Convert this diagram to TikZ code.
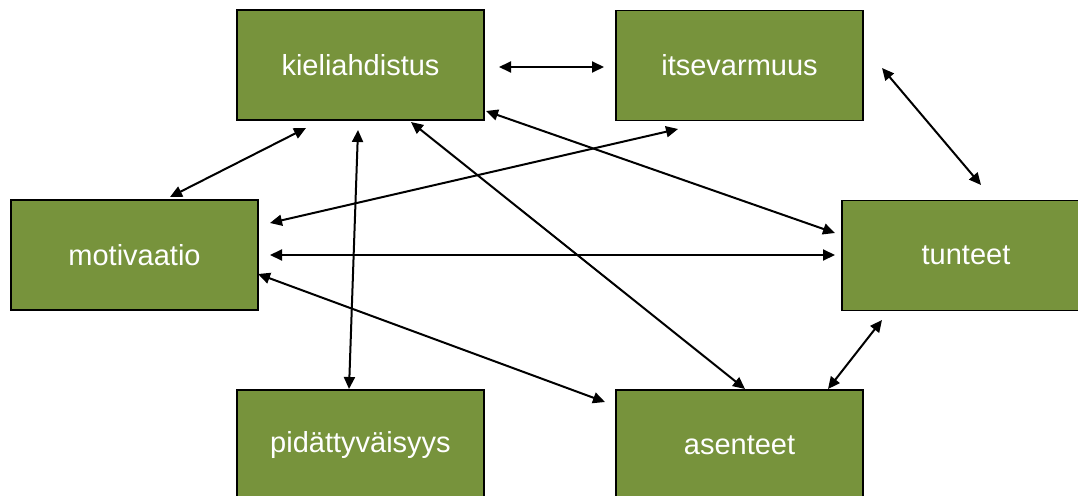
\documentclass[tikz,border=0pt]{standalone}
\usepackage{fontspec}
\setmainfont{Liberation Sans}
\usetikzlibrary{arrows.meta,calc}
\definecolor{boxgreen}{RGB}{119,147,60}
\tikzset{
  box/.style={draw=black, line width=1.6pt, fill=boxgreen, text=white,
    minimum width=247pt, minimum height=110pt, inner sep=0pt,
    font=\fontsize{29}{34}\selectfont},
  link/.style={line width=2pt, {Triangle[length=12pt,width=11pt]}-{Triangle[length=12pt,width=11pt]}}
}
\begin{document}
\begin{tikzpicture}[x=1pt,y=-1pt]
\useasboundingbox (0,0) rectangle (1078,495);
\clip (0,0) rectangle (1078,495);
\node[box] (kiel) at (360.5,65) {kieliahdistus};
\node[box] (itse) at (739.5,65.5) {itsevarmuus};
\node[box] (motiv) at (134.5,255) {motivaatio};
\node[box, minimum width=248pt] (tunt) at (966,255.5) {tunteet};
\node[box] (pid) at (360.5,445) {pidättyväisyys};
\node[box] (asen) at (739.5,445) {asenteet};
\draw[link] ($(kiel)+(138.5,2)$) -- ($(itse)+(-135.5,1.5)$);
\draw[link] ($(itse)+(142.5,2.5)$) -- ($(tunt)+(15,-70.5)$);
\draw[link] ($(kiel)+(-54.5,63)$) -- ($(motiv)+(35.5,-58)$);
\draw[link] ($(itse)+(-61.5,63.5)$) -- ($(motiv)+(135.5,-32)$);
\draw[link] ($(kiel)+(125.5,46)$) -- ($(tunt)+(-131,-22.5)$);
\draw[link] ($(motiv)+(135.5,0)$) -- ($(tunt)+(-131,-0.5)$);
\draw[link] ($(kiel)+(-2.5,65)$) -- ($(pid)+(-11.5,-56)$);
\draw[link] ($(kiel)+(50.5,57)$) -- ($(asen)+(5.5,-56)$);
\draw[link] ($(motiv)+(123.5,19)$) -- ($(asen)+(-134.5,-43)$);
\draw[link] ($(tunt)+(-84,64.5)$) -- ($(asen)+(88.5,-56)$);
\end{tikzpicture}
\end{document}
